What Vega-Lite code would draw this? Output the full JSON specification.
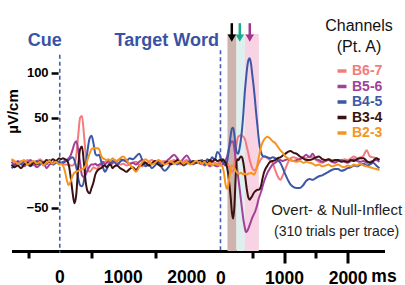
{
"$schema":"https://vega.github.io/schema/vega-lite/v6.json",
"padding":{"left":5.5,"top":18,"right":0,"bottom":0},
"autosize":{"type":"pad"},
"spacing":0,
"bounds":"flush",
"datasets":{
"win":[{"w":"A","t0":110,"t1":252,"ta":178},{"w":"B","t0":252,"t1":383,"ta":304},{"w":"C","t0":383,"t1":603,"ta":461}],
"cue":[{"t":0,"event":"Cue"}],
"ticksL":[{"t":0},{"t":1000},{"t":2000}],
"L":[
{"t":-760,"B6-7":3,"B5-6":1,"B4-5":-6,"B3-4":-2,"B2-3":4},
{"t":-710,"B6-7":1,"B5-6":-2,"B4-5":-3,"B3-4":-5,"B2-3":2},
{"t":-660,"B6-7":-2,"B5-6":2,"B4-5":1,"B3-4":-3,"B2-3":-1},
{"t":-610,"B6-7":2,"B5-6":-1,"B4-5":-2,"B3-4":-6,"B2-3":1},
{"t":-560,"B6-7":-1,"B5-6":-4,"B4-5":2,"B3-4":-2,"B2-3":3},
{"t":-510,"B6-7":3,"B5-6":0,"B4-5":-1,"B3-4":0,"B2-3":-2},
{"t":-460,"B6-7":0,"B5-6":3,"B4-5":-4,"B3-4":-3,"B2-3":0},
{"t":-410,"B6-7":-3,"B5-6":-1,"B4-5":0,"B3-4":1,"B2-3":2},
{"t":-360,"B6-7":1,"B5-6":-5,"B4-5":2,"B3-4":-2,"B2-3":-1},
{"t":-310,"B6-7":4,"B5-6":-2,"B4-5":-2,"B3-4":2,"B2-3":1},
{"t":-260,"B6-7":0,"B5-6":1,"B4-5":1,"B3-4":-1,"B2-3":-3},
{"t":-210,"B6-7":-2,"B5-6":-6,"B4-5":-1,"B3-4":3,"B2-3":0},
{"t":-160,"B6-7":2,"B5-6":-2,"B4-5":3,"B3-4":1,"B2-3":2},
{"t":-110,"B6-7":-1,"B5-6":0,"B4-5":-2,"B3-4":4,"B2-3":-1},
{"t":-60,"B6-7":1,"B5-6":2,"B4-5":0,"B3-4":2,"B2-3":1},
{"t":-10,"B6-7":0,"B5-6":-1,"B4-5":1,"B3-4":5,"B2-3":-2},
{"t":20,"B6-7":0,"B5-6":0,"B4-5":-1,"B3-4":4,"B2-3":-1},
{"t":50,"B6-7":-1,"B5-6":1,"B4-5":0,"B3-4":5,"B2-3":-3},
{"t":80,"B6-7":-2,"B5-6":2,"B4-5":1,"B3-4":4,"B2-3":-9},
{"t":110,"B6-7":-2,"B5-6":3,"B4-5":2,"B3-4":3,"B2-3":-19},
{"t":140,"B6-7":-3,"B5-6":5,"B4-5":3,"B3-4":-2,"B2-3":-25},
{"t":170,"B6-7":-3,"B5-6":8,"B4-5":5,"B3-4":-15,"B2-3":-21},
{"t":200,"B6-7":-3,"B5-6":14,"B4-5":6,"B3-4":-32,"B2-3":-15},
{"t":230,"B6-7":-1,"B5-6":21,"B4-5":3,"B3-4":-45,"B2-3":-11},
{"t":260,"B6-7":8,"B5-6":24,"B4-5":-5,"B3-4":-35,"B2-3":-10},
{"t":290,"B6-7":30,"B5-6":15,"B4-5":-17,"B3-4":-5,"B2-3":-9},
{"t":320,"B6-7":50,"B5-6":0,"B4-5":-25,"B3-4":15,"B2-3":-8},
{"t":350,"B6-7":52,"B5-6":-14,"B4-5":-26,"B3-4":18,"B2-3":-7},
{"t":380,"B6-7":32,"B5-6":-16,"B4-5":-20,"B3-4":0,"B2-3":-6},
{"t":410,"B6-7":8,"B5-6":-13,"B4-5":-2,"B3-4":-22,"B2-3":-3},
{"t":440,"B6-7":-6,"B5-6":-8,"B4-5":15,"B3-4":-32,"B2-3":4},
{"t":470,"B6-7":-10,"B5-6":-4,"B4-5":27,"B3-4":-34,"B2-3":10},
{"t":500,"B6-7":-8,"B5-6":-2,"B4-5":30,"B3-4":-28,"B2-3":15},
{"t":530,"B6-7":-5,"B5-6":-2,"B4-5":22,"B3-4":-22,"B2-3":16},
{"t":560,"B6-7":-6,"B5-6":-1,"B4-5":10,"B3-4":-13,"B2-3":16},
{"t":590,"B6-7":-7,"B5-6":-3,"B4-5":8,"B3-4":-9,"B2-3":16},
{"t":620,"B6-7":-4,"B5-6":-2,"B4-5":9,"B3-4":-7,"B2-3":15},
{"t":650,"B6-7":-2,"B5-6":-1,"B4-5":2,"B3-4":-6,"B2-3":8},
{"t":680,"B6-7":0,"B5-6":1,"B4-5":-5,"B3-4":-4,"B2-3":5},
{"t":710,"B6-7":1,"B5-6":-2,"B4-5":-10,"B3-4":-3,"B2-3":4},
{"t":740,"B6-7":2,"B5-6":0,"B4-5":-7,"B3-4":-5,"B2-3":3},
{"t":770,"B6-7":0,"B5-6":2,"B4-5":-2,"B3-4":-3,"B2-3":4},
{"t":800,"B6-7":-1,"B5-6":1,"B4-5":0,"B3-4":-2,"B2-3":2},
{"t":830,"B6-7":1,"B5-6":-1,"B4-5":2,"B3-4":-6,"B2-3":5},
{"t":860,"B6-7":2,"B5-6":3,"B4-5":1,"B3-4":-4,"B2-3":3},
{"t":900,"B6-7":1,"B5-6":2,"B4-5":-2,"B3-4":-3,"B2-3":2},
{"t":950,"B6-7":-2,"B5-6":4,"B4-5":1,"B3-4":-6,"B2-3":5},
{"t":1000,"B6-7":-1,"B5-6":3,"B4-5":3,"B3-4":-8,"B2-3":7},
{"t":1050,"B6-7":-3,"B5-6":1,"B4-5":2,"B3-4":-10,"B2-3":3},
{"t":1100,"B6-7":-2,"B5-6":-1,"B4-5":5,"B3-4":-7,"B2-3":-2},
{"t":1150,"B6-7":0,"B5-6":0,"B4-5":4,"B3-4":-5,"B2-3":-6},
{"t":1200,"B6-7":1,"B5-6":-2,"B4-5":7,"B3-4":-8,"B2-3":-10},
{"t":1250,"B6-7":-2,"B5-6":1,"B4-5":10,"B3-4":-4,"B2-3":-5},
{"t":1300,"B6-7":-4,"B5-6":3,"B4-5":3,"B3-4":-2,"B2-3":1},
{"t":1350,"B6-7":-1,"B5-6":0,"B4-5":-4,"B3-4":0,"B2-3":4},
{"t":1400,"B6-7":1,"B5-6":-3,"B4-5":-2,"B3-4":-3,"B2-3":1},
{"t":1450,"B6-7":3,"B5-6":-1,"B4-5":-6,"B3-4":-1,"B2-3":-2},
{"t":1500,"B6-7":0,"B5-6":2,"B4-5":-3,"B3-4":2,"B2-3":0},
{"t":1550,"B6-7":-2,"B5-6":1,"B4-5":1,"B3-4":-2,"B2-3":3},
{"t":1600,"B6-7":1,"B5-6":-2,"B4-5":-5,"B3-4":-4,"B2-3":1},
{"t":1650,"B6-7":2,"B5-6":0,"B4-5":-9,"B3-4":-1,"B2-3":-2},
{"t":1700,"B6-7":-1,"B5-6":3,"B4-5":-6,"B3-4":1,"B2-3":0},
{"t":1750,"B6-7":1,"B5-6":6,"B4-5":-1,"B3-4":-2,"B2-3":2},
{"t":1800,"B6-7":3,"B5-6":9,"B4-5":1,"B3-4":0,"B2-3":-1},
{"t":1850,"B6-7":0,"B5-6":5,"B4-5":-2,"B3-4":3,"B2-3":0},
{"t":1900,"B6-7":-2,"B5-6":1,"B4-5":1,"B3-4":0,"B2-3":2},
{"t":1950,"B6-7":1,"B5-6":5,"B4-5":-3,"B3-4":-2,"B2-3":-1},
{"t":2000,"B6-7":3,"B5-6":8,"B4-5":-1,"B3-4":1,"B2-3":1},
{"t":2050,"B6-7":0,"B5-6":3,"B4-5":2,"B3-4":-1,"B2-3":-2},
{"t":2100,"B6-7":-2,"B5-6":-1,"B4-5":-1,"B3-4":2,"B2-3":0},
{"t":2150,"B6-7":1,"B5-6":1,"B4-5":0,"B3-4":0,"B2-3":2},
{"t":2200,"B6-7":2,"B5-6":0,"B4-5":2,"B3-4":3,"B2-3":-1}
],
"R":[
{"t":-330,"B6-7":1,"B5-6":-2,"B4-5":0,"B3-4":3,"B2-3":2},
{"t":-290,"B6-7":-2,"B5-6":1,"B4-5":3,"B3-4":0,"B2-3":-1},
{"t":-250,"B6-7":2,"B5-6":-3,"B4-5":-2,"B3-4":2,"B2-3":1},
{"t":-210,"B6-7":0,"B5-6":-1,"B4-5":4,"B3-4":-1,"B2-3":-2},
{"t":-170,"B6-7":-1,"B5-6":-4,"B4-5":2,"B3-4":3,"B2-3":0},
{"t":-130,"B6-7":2,"B5-6":-2,"B4-5":6,"B3-4":1,"B2-3":-3},
{"t":-90,"B6-7":0,"B5-6":-3,"B4-5":3,"B3-4":4,"B2-3":-1},
{"t":-50,"B6-7":-1,"B5-6":-4,"B4-5":12,"B3-4":2,"B2-3":-2},
{"t":-10,"B6-7":1,"B5-6":-2,"B4-5":9,"B3-4":3,"B2-3":-3},
{"t":0,"B6-7":0,"B5-6":-2,"B4-5":6,"B3-4":3,"B2-3":-2},
{"t":20,"B6-7":1,"B5-6":-3,"B4-5":3,"B3-4":2,"B2-3":-3},
{"t":40,"B6-7":2,"B5-6":-1,"B4-5":0,"B3-4":4,"B2-3":-6},
{"t":60,"B6-7":1,"B5-6":0,"B4-5":-2,"B3-4":2,"B2-3":-14},
{"t":80,"B6-7":2,"B5-6":3,"B4-5":-3,"B3-4":0,"B2-3":-24},
{"t":100,"B6-7":0,"B5-6":6,"B4-5":0,"B3-4":-4,"B2-3":-29},
{"t":120,"B6-7":-2,"B5-6":12,"B4-5":8,"B3-4":-12,"B2-3":-26},
{"t":140,"B6-7":-5,"B5-6":18,"B4-5":19,"B3-4":-24,"B2-3":-16},
{"t":160,"B6-7":-8,"B5-6":22,"B4-5":30,"B3-4":-38,"B2-3":-6},
{"t":180,"B6-7":-10,"B5-6":24,"B4-5":38,"B3-4":-55,"B2-3":-3},
{"t":200,"B6-7":-9,"B5-6":23,"B4-5":39,"B3-4":-62,"B2-3":-4},
{"t":220,"B6-7":0,"B5-6":15,"B4-5":30,"B3-4":-47,"B2-3":-6},
{"t":240,"B6-7":14,"B5-6":3,"B4-5":17,"B3-4":-14,"B2-3":-9},
{"t":260,"B6-7":24,"B5-6":-5,"B4-5":11,"B3-4":4,"B2-3":-11},
{"t":280,"B6-7":29,"B5-6":-17,"B4-5":10,"B3-4":3,"B2-3":-12},
{"t":300,"B6-7":30,"B5-6":-28,"B4-5":16,"B3-4":5,"B2-3":-12},
{"t":320,"B6-7":31,"B5-6":-40,"B4-5":25,"B3-4":7,"B2-3":-11},
{"t":340,"B6-7":30,"B5-6":-52,"B4-5":38,"B3-4":6,"B2-3":-12},
{"t":360,"B6-7":29,"B5-6":-63,"B4-5":55,"B3-4":0,"B2-3":-13},
{"t":380,"B6-7":27,"B5-6":-71,"B4-5":76,"B3-4":-10,"B2-3":-12},
{"t":400,"B6-7":22,"B5-6":-77,"B4-5":92,"B3-4":-22,"B2-3":-13},
{"t":420,"B6-7":16,"B5-6":-76,"B4-5":106,"B3-4":-32,"B2-3":-13},
{"t":440,"B6-7":10,"B5-6":-73,"B4-5":114,"B3-4":-39,"B2-3":-12},
{"t":460,"B6-7":3,"B5-6":-69,"B4-5":116,"B3-4":-41,"B2-3":-12},
{"t":480,"B6-7":-2,"B5-6":-65,"B4-5":110,"B3-4":-39,"B2-3":-11},
{"t":500,"B6-7":-6,"B5-6":-61,"B4-5":98,"B3-4":-37,"B2-3":-12},
{"t":520,"B6-7":-8,"B5-6":-58,"B4-5":86,"B3-4":-34,"B2-3":-13},
{"t":540,"B6-7":-8,"B5-6":-55,"B4-5":72,"B3-4":-32,"B2-3":-12},
{"t":560,"B6-7":-7,"B5-6":-51,"B4-5":56,"B3-4":-31,"B2-3":-8},
{"t":580,"B6-7":-4,"B5-6":-46,"B4-5":42,"B3-4":-30,"B2-3":-2},
{"t":600,"B6-7":-1,"B5-6":-40,"B4-5":28,"B3-4":-30,"B2-3":5},
{"t":620,"B6-7":2,"B5-6":-36,"B4-5":17,"B3-4":-29,"B2-3":12},
{"t":640,"B6-7":4,"B5-6":-32,"B4-5":11,"B3-4":-25,"B2-3":18},
{"t":660,"B6-7":6,"B5-6":-27,"B4-5":8,"B3-4":-18,"B2-3":22},
{"t":680,"B6-7":7,"B5-6":-22,"B4-5":7,"B3-4":-12,"B2-3":25},
{"t":700,"B6-7":7,"B5-6":-18,"B4-5":7,"B3-4":-8,"B2-3":27},
{"t":740,"B6-7":5,"B5-6":-11,"B4-5":6,"B3-4":-3,"B2-3":29},
{"t":780,"B6-7":3,"B5-6":-6,"B4-5":5,"B3-4":1,"B2-3":27},
{"t":820,"B6-7":0,"B5-6":-2,"B4-5":6,"B3-4":2,"B2-3":24},
{"t":860,"B6-7":-8,"B5-6":0,"B4-5":5,"B3-4":3,"B2-3":22},
{"t":900,"B6-7":-15,"B5-6":2,"B4-5":3,"B3-4":5,"B2-3":18},
{"t":940,"B6-7":-19,"B5-6":3,"B4-5":0,"B3-4":6,"B2-3":14},
{"t":980,"B6-7":-14,"B5-6":2,"B4-5":-6,"B3-4":8,"B2-3":11},
{"t":1020,"B6-7":-7,"B5-6":3,"B4-5":-13,"B3-4":10,"B2-3":7},
{"t":1060,"B6-7":0,"B5-6":4,"B4-5":-19,"B3-4":12,"B2-3":5},
{"t":1100,"B6-7":5,"B5-6":3,"B4-5":-24,"B3-4":13,"B2-3":3},
{"t":1150,"B6-7":6,"B5-6":2,"B4-5":-27,"B3-4":11,"B2-3":2},
{"t":1200,"B6-7":5,"B5-6":3,"B4-5":-28,"B3-4":10,"B2-3":1},
{"t":1250,"B6-7":4,"B5-6":4,"B4-5":-28,"B3-4":7,"B2-3":2},
{"t":1300,"B6-7":6,"B5-6":6,"B4-5":-25,"B3-4":5,"B2-3":0},
{"t":1350,"B6-7":5,"B5-6":9,"B4-5":-20,"B3-4":3,"B2-3":1},
{"t":1400,"B6-7":7,"B5-6":6,"B4-5":-18,"B3-4":3,"B2-3":0},
{"t":1450,"B6-7":6,"B5-6":10,"B4-5":-19,"B3-4":4,"B2-3":-1},
{"t":1500,"B6-7":3,"B5-6":4,"B4-5":-17,"B3-4":6,"B2-3":-3},
{"t":1550,"B6-7":1,"B5-6":3,"B4-5":-15,"B3-4":7,"B2-3":-2},
{"t":1600,"B6-7":0,"B5-6":1,"B4-5":-14,"B3-4":4,"B2-3":-4},
{"t":1650,"B6-7":2,"B5-6":2,"B4-5":-12,"B3-4":3,"B2-3":-3},
{"t":1700,"B6-7":4,"B5-6":3,"B4-5":-10,"B3-4":4,"B2-3":-2},
{"t":1750,"B6-7":3,"B5-6":1,"B4-5":-8,"B3-4":2,"B2-3":-4},
{"t":1800,"B6-7":1,"B5-6":0,"B4-5":-7,"B3-4":3,"B2-3":-3},
{"t":1850,"B6-7":3,"B5-6":2,"B4-5":-7,"B3-4":3,"B2-3":-2},
{"t":1900,"B6-7":2,"B5-6":3,"B4-5":-9,"B3-4":1,"B2-3":-4},
{"t":1950,"B6-7":4,"B5-6":1,"B4-5":-8,"B3-4":2,"B2-3":-5},
{"t":2000,"B6-7":3,"B5-6":0,"B4-5":-6,"B3-4":1,"B2-3":-3},
{"t":2050,"B6-7":5,"B5-6":2,"B4-5":-5,"B3-4":3,"B2-3":-4},
{"t":2100,"B6-7":7,"B5-6":4,"B4-5":-3,"B3-4":2,"B2-3":-2},
{"t":2150,"B6-7":5,"B5-6":2,"B4-5":-4,"B3-4":4,"B2-3":-3},
{"t":2200,"B6-7":6,"B5-6":1,"B4-5":-2,"B3-4":5,"B2-3":-1},
{"t":2250,"B6-7":8,"B5-6":2,"B4-5":-1,"B3-4":5,"B2-3":-3},
{"t":2300,"B6-7":14,"B5-6":0,"B4-5":-3,"B3-4":2,"B2-3":-4},
{"t":2350,"B6-7":7,"B5-6":1,"B4-5":-2,"B3-4":0,"B2-3":-5},
{"t":2400,"B6-7":6,"B5-6":2,"B4-5":0,"B3-4":2,"B2-3":-6},
{"t":2450,"B6-7":5,"B5-6":3,"B4-5":-3,"B3-4":5,"B2-3":-7},
{"t":2500,"B6-7":4,"B5-6":1,"B4-5":-6,"B3-4":3,"B2-3":-8}
]
},
"hconcat":[
{
"width":188,"height":217,
"layer":[
{"data":{"name":"cue"},"mark":{"type":"rule","color":"#3F5FB5","strokeWidth":1.6,"strokeDash":[4,3]},
 "encoding":{
  "x":{"field":"t","type":"quantitative","scale":{"domain":[-760,2200],"nice":false,"zero":false},
   "axis":{"values":[-500,0,500,1000,1500,2000],"labels":false,"title":null,"domainWidth":3,"tickWidth":3,
    "tickSize":{"condition":{"test":"datum.value % 1000 === 0","value":12},"value":7},
    "tickColor":{"condition":{"test":"datum.value === 0","value":"transparent"},"value":"black"}}},
  "y":{"datum":120,"type":"quantitative","scale":{"domain":[-98,143],"nice":false,"zero":false},
   "axis":{"values":[-50,50,100],"title":"µV/cm","titleAngle":270,"titleAlign":"center","titleBaseline":"middle","titleX":-45.3,"titleY":77,"titleFontSize":15,"titleFontWeight":"bold","titleColor":"black","titleFont":"Liberation Sans",
    "domain":false,"offset":-46.6,"tickSize":7,"tickWidth":2.5,"labelFontSize":13,"labelPadding":3}},
  "y2":{"datum":-100}}},
{"data":{"name":"L"},"transform":[{"fold":["B6-7","B5-6","B4-5","B3-4","B2-3"],"as":["ch","v"]}],
 "mark":{"type":"line","strokeWidth":2,"interpolate":"monotone"},
 "encoding":{
  "x":{"field":"t","type":"quantitative"},
  "y":{"field":"v","type":"quantitative"},
  "color":{"field":"ch","type":"nominal","scale":{"domain":["B6-7","B5-6","B4-5","B3-4","B2-3"],"range":["#F47B7B","#A2409A","#3D57A7","#3A1212","#F7941E"]},
   "legend":{"title":["Channels","(Pt. A)"],"encode":{"labels":{"update":{"fill":{"scale":"color","field":"value"}}}}}}
 }},
{"data":{"name":"cue"},"mark":{"type":"text","align":"right","baseline":"alphabetic","dx":2,"fontSize":18,"fontWeight":"bold","color":"#3953A4"},
 "encoding":{"x":{"field":"t","type":"quantitative"},"y":{"datum":129.7,"type":"quantitative"},"text":{"field":"event"}}},
{"data":{"name":"ticksL"},"mark":{"type":"text","align":"center","baseline":"alphabetic","fontSize":17.5,"fontWeight":"bold","color":"black"},
 "encoding":{"x":{"field":"t","type":"quantitative"},"y":{"datum":-133.3,"type":"quantitative"},"text":{"field":"t","type":"quantitative","format":"d"}}}
]
},
{
"width":185,"height":217,
"resolve":{"scale":{"fill":"independent"}},
"layer":[
{"data":{"name":"win"},"mark":{"type":"rect"},
 "encoding":{"x":{"field":"t0","type":"quantitative","scale":{"domain":[-330,2580],"nice":false,"zero":false},
   "axis":{"values":[0,500,1000,1500,2000],"labelExpr":"datum.value % 1000 === 0 ? format(datum.value, 'd') : ''","title":null,"domainWidth":3,"tickWidth":3,
    "tickSize":{"condition":{"test":"datum.value % 1000 === 0","value":12},"value":7},
    "tickColor":{"condition":{"test":"datum.value === 0","value":"transparent"},"value":"black"},
    "labelFontSize":17.5,"labelPadding":6,"labelFlush":false,"labelOverlap":false,"labelBound":false}},
  "x2":{"field":"t1"},
  "fill":{"field":"w","type":"nominal","scale":{"domain":["A","B","C"],"range":["#CDB5AE","#DDEFEE","#F8D3E3"]},"legend":null}}},
{"data":{"values":[{}]},"mark":{"type":"rule","color":"#3F5FB5","strokeWidth":1.6,"strokeDash":[4,3]},
 "encoding":{"x":{"datum":0,"type":"quantitative"},"y":{"datum":125,"type":"quantitative","scale":{"domain":[-98,143],"nice":false,"zero":false},"axis":null},"y2":{"datum":-100}}},
{"data":{"name":"R"},"transform":[{"fold":["B6-7","B5-6","B4-5","B3-4","B2-3"],"as":["ch","v"]}],
 "mark":{"type":"line","strokeWidth":2,"interpolate":"monotone"},
 "encoding":{
  "x":{"field":"t","type":"quantitative"},
  "y":{"field":"v","type":"quantitative","axis":null},
  "color":{"field":"ch","type":"nominal","scale":{"domain":["B6-7","B5-6","B4-5","B3-4","B2-3"],"range":["#F47B7B","#A2409A","#3D57A7","#3A1212","#F7941E"]},"legend":null}
 }},
{"data":{"name":"win"},"mark":{"type":"rule","strokeWidth":2.5},
 "encoding":{"x":{"field":"ta","type":"quantitative"},"y":{"datum":155,"type":"quantitative","axis":null},"y2":{"datum":141},
  "stroke":{"field":"w","type":"nominal","scale":{"domain":["A","B","C"],"range":["#000000","#1AAA8E","#A3358F"]},"legend":null}}},
{"data":{"name":"win"},"mark":{"type":"point","shape":"triangle-down","filled":true,"size":70,"opacity":1},
 "encoding":{"x":{"field":"ta","type":"quantitative"},"y":{"datum":138.5,"type":"quantitative","axis":null},
  "fill":{"field":"w","type":"nominal","scale":{"domain":["A","B","C"],"range":["#000000","#1AAA8E","#A3358F"]},"legend":null}}},
{"data":{"values":[{}]},"mark":{"type":"text","text":"Target Word","align":"right","baseline":"alphabetic","fontSize":18,"fontWeight":"bold","color":"#3953A4"},
 "encoding":{"x":{"datum":-24,"type":"quantitative"},"y":{"datum":129.7,"type":"quantitative","axis":null}}},
{"data":{"values":[{}]},"mark":{"type":"text","text":"Overt- & Null-Inflect","align":"center","baseline":"middle","fontSize":15,"color":"#222222"},
 "encoding":{"x":{"datum":1827,"type":"quantitative"},"y":{"datum":-52.6,"type":"quantitative","axis":null}}},
{"data":{"values":[{}]},"mark":{"type":"text","text":"(310 trials per trace)","align":"center","baseline":"middle","fontSize":14,"color":"#222222"},
 "encoding":{"x":{"datum":1827,"type":"quantitative"},"y":{"datum":-76.4,"type":"quantitative","axis":null}}},
{"data":{"values":[{}]},"mark":{"type":"text","text":"ms","align":"left","baseline":"alphabetic","fontSize":17.5,"fontWeight":"bold","color":"black"},
 "encoding":{"x":{"datum":2373,"type":"quantitative"},"y":{"datum":-132.2,"type":"quantitative","axis":null}}}
]
}
],
"config":{
 "font":"Liberation Sans",
 "view":{"stroke":null},
 "axis":{"grid":false,"domainColor":"black","tickColor":"black","labelColor":"black","labelFont":"Liberation Sans","labelFontWeight":"bold"},
 "text":{"font":"Liberation Sans"},
 "legend":{"orient":"none","legendX":313.5,"legendY":-16,"titleFont":"Liberation Sans","titleFontSize":16,"titleFontWeight":"normal","titleColor":"#111111","titleAnchor":"middle","titleAlign":"center","titleLineHeight":21,"titlePadding":9,
  "labelFont":"Liberation Sans","labelFontSize":14,"labelFontWeight":"bold","symbolType":"stroke","symbolStrokeWidth":3.5,"symbolSize":80,"rowPadding":1.5,"labelOffset":3}
}
}
